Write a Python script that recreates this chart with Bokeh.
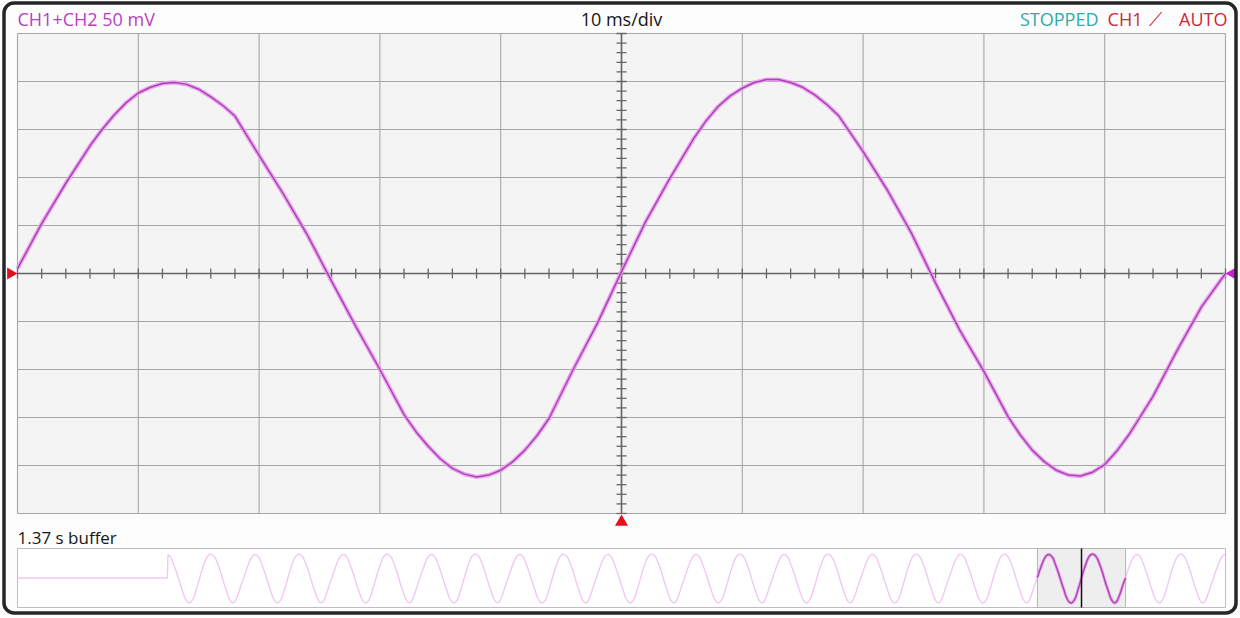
import numpy as np
from bokeh.plotting import figure
from bokeh.models import Range1d, Label, BoxAnnotation
from bokeh.embed import file_html
from bokeh.resources import INLINE

TIME_MS = [-50, -48, -46, -44, -43, -42, -41, -40, -39, -38, -37, -36, -35, -34, -33, -32,
           -30, -28, -26, -24, -22, -20, -18, -17, -16, -15, -14, -13, -12, -11, -10, -9, -8, -7,
           -6, -4, -2, 0, 2, 4, 6, 7, 8, 9, 10, 11, 12, 13, 14, 15, 16, 17, 18,
           20, 22, 24, 26, 28, 30, 32, 33, 34, 35, 36, 37, 38, 39, 40, 41, 42,
           44, 46, 48, 50]
TRACE_MV = [5, 52, 94, 133, 150, 165, 178, 188, 194, 198, 199, 197, 192, 184, 175, 164,
            123, 83, 40, -8, -55, -100, -147, -165, -180, -193, -203, -209, -212, -210, -205, -196, -184, -169,
            -151, -100, -52, 2, 54, 99, 141, 159, 174, 185, 193, 199, 202, 202, 199, 194, 186, 176, 164,
            127, 87, 42, -10, -59, -102, -149, -168, -184, -196, -205, -210, -211, -207, -199, -185, -168,
            -128, -80, -35, 0]
X_DIVS_MS = list(range(-50, 51, 10))
Y_DIVS_MV = list(range(-250, 251, 50))
X_MINOR_MS = list(range(-50, 51, 2))
Y_MINOR_MV = list(range(-250, 251, 10))
BUFFER_LEN_S = 1.37
BUFFER_ONSET_S = 0.170
BUFFER_CURSOR_S = 1.2067
WINDOW_MS = 100

HEADER_LEFT = "CH1+CH2 50 mV"
HEADER_CENTER = "10 ms/div"
STATE_TEXT = "STOPPED"
TRIG_SRC = "CH1"
TRIG_SLOPE = "\u27cb"
TRIG_MODE = "AUTO"
BUFFER_TEXT = "1.37 s buffer"

# ---------------- layout (canvas pixels) ----------------
W, H = 1240, 618
GRID_L, GRID_R = 17, 1225
GRID_T, GRID_B = 33, 513
BUF_T, BUF_B = 548, 607
XMIN, XMAX = X_DIVS_MS[0], X_DIVS_MS[-1]
YMIN, YMAX = Y_DIVS_MV[0], Y_DIVS_MV[-1]

sx = (GRID_R - GRID_L) / (XMAX - XMIN)
sy = (GRID_B - GRID_T) / (YMAX - YMIN)
bx = (GRID_R - GRID_L) / BUFFER_LEN_S
by = (BUF_B - BUF_T) / (YMAX - YMIN)

x_range = Range1d(XMIN - GRID_L / sx, XMAX + (W - GRID_R) / sx)
y_range = Range1d(YMIN - (H - GRID_B) / sy, YMAX + GRID_T / sy)
buf_x = Range1d(-GRID_L / bx, BUFFER_LEN_S + (W - GRID_R) / bx)
buf_y = Range1d(YMIN - (H - BUF_B) / by, YMAX + BUF_T / by)

FONT = "Open Sans"
GRID_C = "#a6a6a6"
AXIS_C = "#666666"
GLOW_C = "#ea98ee"
CORE_C = "#a943b5"
RED = "#d0283a"

p = figure(width=W, height=H, x_range=x_range, y_range=y_range,
           x_axis_type=None, y_axis_type=None, toolbar_location=None,
           output_backend="svg", min_border=0,
           background_fill_color="#fdfdfd", border_fill_color="#fdfdfd",
           outline_line_color=None)
p.extra_x_ranges = {"buf": buf_x}
p.extra_y_ranges = {"buf": buf_y}

# main graticule
p.quad(left=XMIN, right=XMAX, bottom=YMIN, top=YMAX,
       fill_color="#f4f4f4", line_color=None)
p.segment(x0=X_DIVS_MS, y0=[YMIN] * len(X_DIVS_MS), x1=X_DIVS_MS, y1=[YMAX] * len(X_DIVS_MS),
          line_color=GRID_C, line_width=1.1)
p.segment(x0=[XMIN] * len(Y_DIVS_MV), y0=Y_DIVS_MV, x1=[XMAX] * len(Y_DIVS_MV), y1=Y_DIVS_MV,
          line_color=GRID_C, line_width=1.1)

# centre axes with minor ticks
p.segment(x0=[XMIN, 0], y0=[0, YMIN], x1=[XMAX, 0], y1=[0, YMAX],
          line_color=AXIS_C, line_width=1.6)
p.scatter(X_MINOR_MS, [0] * len(X_MINOR_MS), marker="dash", size=10, angle=np.pi / 2,
          line_color=AXIS_C, line_width=1.3)
p.scatter([0] * len(Y_MINOR_MV), Y_MINOR_MV, marker="dash", size=10,
          line_color=AXIS_C, line_width=1.3)

# trace
p.line(TIME_MS, TRACE_MV, line_color=GLOW_C, line_width=4.2, line_alpha=0.85, line_join="round")
p.line(TIME_MS, TRACE_MV, line_color=CORE_C, line_width=1.5, line_join="round")

# markers
tri = 12
p.scatter([XMIN - (tri / np.sqrt(3)) / sx], [0], marker="triangle", size=tri, angle=-np.pi / 2,
          fill_color="#e2101c", line_color=None)
p.scatter([XMAX + (tri / np.sqrt(3)) / sx], [0], marker="triangle", size=tri, angle=np.pi / 2,
          fill_color="#c81ed4", line_color=None)
tb = 13
p.scatter([0], [YMIN - (1 + tb / np.sqrt(3)) / sy], marker="triangle", size=tb,
          fill_color="#e2101c", line_color=None)

# ---------------- buffer strip ----------------
T = np.array(TIME_MS[:-1], dtype=float)
V = np.array(TRACE_MV[:-1], dtype=float)
bt, bv = [0.0, BUFFER_ONSET_S], [0.0, 0.0]
for k in range(-11, 3):
    ts = BUFFER_CURSOR_S + (T + WINDOW_MS * k) / 1000.0
    m = (ts > BUFFER_ONSET_S) & (ts <= BUFFER_LEN_S)
    bt.extend(ts[m].tolist())
    bv.extend(V[m].tolist())

p.quad(left=0, right=BUFFER_LEN_S, bottom=YMIN, top=YMAX, x_range_name="buf", y_range_name="buf",
       fill_color="#ffffff", line_color="#bdbdbd", line_width=1)
p.line(bt, bv, x_range_name="buf", y_range_name="buf", line_color="#f1c8f1", line_width=1.4)
half = WINDOW_MS / 2000.0
p.quad(left=BUFFER_CURSOR_S - half, right=BUFFER_CURSOR_S + half, bottom=YMIN, top=YMAX,
       x_range_name="buf", y_range_name="buf", fill_color="#eeeeee", line_color="#b3b3b3", line_width=1)
wt = [BUFFER_CURSOR_S + t / 1000.0 for t in TIME_MS]
p.line(wt, TRACE_MV, x_range_name="buf", y_range_name="buf", line_color=GLOW_C, line_width=3)
p.line(wt, TRACE_MV, x_range_name="buf", y_range_name="buf", line_color=CORE_C, line_width=1.3)
p.segment(x0=[BUFFER_CURSOR_S], y0=[YMIN], x1=[BUFFER_CURSOR_S], y1=[YMAX],
          x_range_name="buf", y_range_name="buf", line_color="#111111", line_width=1.5)

# ---------------- texts ----------------
HEAD_GAP_PX = 15
head_y = YMAX + HEAD_GAP_PX / sy

def lab(text, x, color, align, xo=0, size="18px", font=FONT):
    p.add_layout(Label(x=x, y=head_y, x_offset=xo, text=text, text_align=align,
                       text_baseline="middle", text_color=color, text_font=font,
                       text_font_size=size))

lab(HEADER_LEFT, XMIN, "#b83fc4", "left")
lab(HEADER_CENTER, 0, "#161616", "center")
lab(TRIG_MODE, XMAX, RED, "right", xo=2)
lab(TRIG_SLOPE, XMAX, RED, "center", xo=-70, size="19px", font="DejaVu Sans")
lab(TRIG_SRC, XMAX, RED, "right", xo=-83)
lab(STATE_TEXT, XMAX, "#2faaa9", "right", xo=-127)

BUF_GAP_PX = 11.5
p.add_layout(Label(x=0, y=YMAX + BUF_GAP_PX / by, x_range_name="buf", y_range_name="buf",
                   text=BUFFER_TEXT, text_align="left", text_baseline="middle",
                   text_color="#161616", text_font=FONT, text_font_size="17px"))

# outer frame
BORDER_INSET_L, BORDER_INSET_R, BORDER_INSET_T, BORDER_INSET_B = 3.5, 4.5, 2.5, 5.5
p.add_layout(BoxAnnotation(left=x_range.start + BORDER_INSET_L / sx,
                           right=x_range.end - BORDER_INSET_R / sx,
                           bottom=y_range.start + BORDER_INSET_B / sy,
                           top=y_range.end - BORDER_INSET_T / sy,
                           fill_color=None, fill_alpha=0, line_color="#262626",
                           line_alpha=1.0, line_width=3.5, border_radius=10))

open("out.html", "w").write(file_html(p, INLINE))
